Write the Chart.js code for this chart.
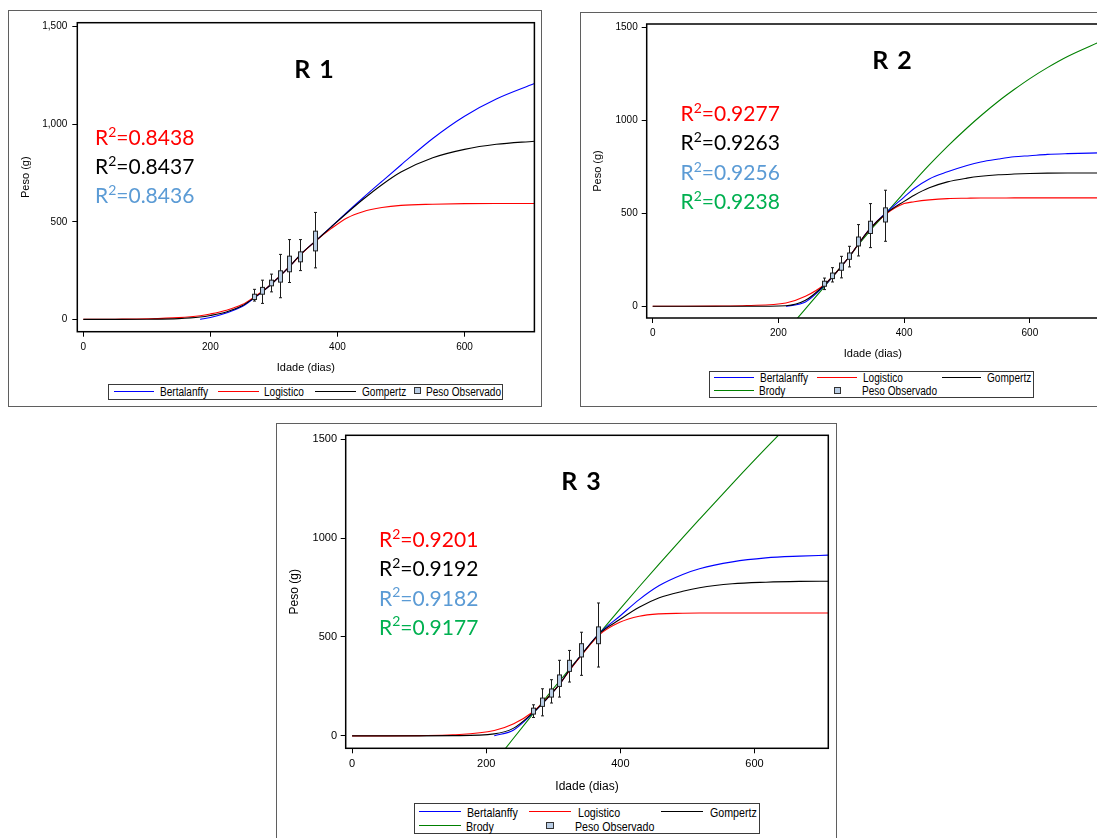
<!DOCTYPE html>
<html lang="pt">
<head>
<meta charset="utf-8">
<title>Curvas de crescimento – R1, R2, R3</title>
<script src="https://cdn.jsdelivr.net/npm/chart.js@4.4.1/dist/chart.umd.min.js"></script>
<style>
  html, body { margin: 0; padding: 0; background: #fff; }
  #page { position: relative; width: 1097px; height: 838px; overflow: hidden; background: #fff; }
  .frame { position: absolute; border: 1px solid #5f5f5f; box-sizing: border-box; }
  canvas { position: absolute; }
  .ttl { position: absolute; width: 120px; text-align: center; font: bold 25px Lato, sans-serif;
         line-height: 1.2; word-spacing: 3px; color: #000; white-space: nowrap; }
  .rsq { position: absolute; font: 21px Lato, sans-serif; line-height: 1.2; white-space: nowrap; }
  .rsq .sup { position: relative; top: -0.6em; font-size: 14px; }
  .leg { position: absolute; border: 1px solid #3a3a3a; box-sizing: border-box; }
  .lg-line { position: absolute; height: 1px; }
  .lg-txt { position: absolute; font-family: "Liberation Sans", Arial, sans-serif; font-size: 12px; line-height: 12px;
            white-space: nowrap; color: #000; transform: scaleX(0.84); transform-origin: 0 50%; }
  .lg-txt.big { font-size: 13px; line-height: 13px; transform: scaleX(0.82); }
  .lg-sq { position: absolute; background: #b8cce4; border: 1px solid #333; box-sizing: border-box; }
</style>
</head>
<body>
<div id="page">
  <!-- panel frames -->
  <div class="frame" style="left:8px;top:10px;width:534px;height:397px;"></div>
  <div class="frame" style="left:580px;top:12px;width:600px;height:395px;"></div>
  <div class="frame" style="left:276px;top:423px;width:561px;height:450px;"></div>

  <canvas id="chartR1" width="531" height="370" style="left:9px;top:11px;"></canvas>
  <canvas id="chartR2" width="530" height="355" style="left:581px;top:13px;"></canvas>
  <canvas id="chartR3" width="556" height="375" style="left:277px;top:424px;"></canvas>

  <!-- panel titles -->
  <div class="ttl" style="left:254px;top:53px;">R 1</div>
  <div class="ttl" style="left:832px;top:43.6px;">R 2</div>
  <div class="ttl" style="left:521px;top:465.3px;">R 3</div>

  <!-- coefficients of determination -->
  <div class="rsq" style="left:95px;top:124.3px;color:#ff0000;">R<span class="sup">2</span>=0.8438</div>
  <div class="rsq" style="left:95px;top:153.3px;color:#000000;">R<span class="sup">2</span>=0.8437</div>
  <div class="rsq" style="left:95px;top:182.3px;color:#5b9bd5;">R<span class="sup">2</span>=0.8436</div>

  <div class="rsq" style="left:680.5px;top:100px;color:#ff0000;">R<span class="sup">2</span>=0.9277</div>
  <div class="rsq" style="left:680.5px;top:129.3px;color:#000000;">R<span class="sup">2</span>=0.9263</div>
  <div class="rsq" style="left:680.5px;top:159.3px;color:#5b9bd5;">R<span class="sup">2</span>=0.9256</div>
  <div class="rsq" style="left:680.5px;top:188.3px;color:#00b050;">R<span class="sup">2</span>=0.9238</div>

  <div class="rsq" style="left:379px;top:526px;color:#ff0000;">R<span class="sup">2</span>=0.9201</div>
  <div class="rsq" style="left:379px;top:555px;color:#000000;">R<span class="sup">2</span>=0.9192</div>
  <div class="rsq" style="left:379px;top:584.6px;color:#5b9bd5;">R<span class="sup">2</span>=0.9182</div>
  <div class="rsq" style="left:379px;top:613.6px;color:#00b050;">R<span class="sup">2</span>=0.9177</div>

  <!-- legend R1 -->
  <div class="leg" style="left:108px;top:384px;width:395px;height:16px;"></div>
  <div class="lg-line" style="left:114px;top:391px;width:40px;background:#0000ff;"></div>
  <div class="lg-txt" style="left:160px;top:386px;">Bertalanffy</div>
  <div class="lg-line" style="left:218px;top:391px;width:41px;background:#ff0000;"></div>
  <div class="lg-txt" style="left:264px;top:386px;">Logistico</div>
  <div class="lg-line" style="left:315px;top:391px;width:41px;background:#000000;"></div>
  <div class="lg-txt" style="left:362px;top:386px;">Gompertz</div>
  <div class="lg-sq" style="left:414px;top:387px;width:7px;height:7px;"></div>
  <div class="lg-txt" style="left:425.5px;top:386px;">Peso Observado</div>

  <!-- legend R2 -->
  <div class="leg" style="left:709px;top:371px;width:325px;height:27px;"></div>
  <div class="lg-line" style="left:714px;top:377px;width:40px;background:#0000ff;"></div>
  <div class="lg-txt" style="left:760px;top:372px;">Bertalanffy</div>
  <div class="lg-line" style="left:817px;top:377px;width:40px;background:#ff0000;"></div>
  <div class="lg-txt" style="left:863px;top:372px;">Logistico</div>
  <div class="lg-line" style="left:942px;top:377px;width:39px;background:#000000;"></div>
  <div class="lg-txt" style="left:987px;top:372px;">Gompertz</div>
  <div class="lg-line" style="left:714px;top:390px;width:40px;background:#008000;"></div>
  <div class="lg-txt" style="left:759px;top:385px;">Brody</div>
  <div class="lg-sq" style="left:834px;top:387px;width:7px;height:7px;"></div>
  <div class="lg-txt" style="left:861.5px;top:385px;">Peso Observado</div>

  <!-- legend R3 -->
  <div class="leg" style="left:414px;top:803px;width:346px;height:31px;"></div>
  <div class="lg-line" style="left:419px;top:811px;width:42px;background:#0000ff;"></div>
  <div class="lg-txt big" style="left:467px;top:805.5px;">Bertalanffy</div>
  <div class="lg-line" style="left:529px;top:811px;width:42px;background:#ff0000;"></div>
  <div class="lg-txt big" style="left:578px;top:805.5px;">Logistico</div>
  <div class="lg-line" style="left:661px;top:811px;width:42px;background:#000000;"></div>
  <div class="lg-txt big" style="left:710px;top:805.5px;">Gompertz</div>
  <div class="lg-line" style="left:419px;top:825px;width:42px;background:#008000;"></div>
  <div class="lg-txt big" style="left:466px;top:819.5px;">Brody</div>
  <div class="lg-sq" style="left:546px;top:822px;width:8px;height:7px;"></div>
  <div class="lg-txt big" style="left:575px;top:819.5px;">Peso Observado</div>
</div>

<script>
// ---- axis settings shared by the three panels ----
const X_MIN = -9.5, X_MAX = 710;
const Y_MIN = -63, Y_MAX = 1520;
const xTickValues = [0, 200, 400, 600];
const xTickLabels = ['0', '200', '400', '600'];
const yTickValues = [0, 500, 1000, 1500];
const yTickLabelsR1 = ['0', '500', '1,000', '1,500'];
const yTickLabelsR23 = ['0', '500', '1000', '1500'];

// ---- R1: fitted curves (idade em dias -> peso em g) ----
const r1Ages         = [0, 50, 100, 150, 184, 200, 225, 250, 270, 285, 300, 315, 330, 345, 365, 390, 415, 440, 470, 500, 550, 600, 650, 710];
const r1Bertalanffy  = [null, null, null, null, 0, 10, 33, 66, 112, 150, 193, 240, 290, 342, 400, 474, 549, 622, 707, 791, 927, 1041, 1129, 1208];
const r1Logistico    = [0, 1, 3, 9, 19, 28, 47, 76, 117, 152, 194, 240, 289, 341, 400, 465, 520, 552, 573, 584, 590, 593, 594, 594];
const r1Gompertz     = [0, 0, 1, 4, 12, 20, 38, 70, 113, 150, 193, 240, 290, 342, 400, 473, 545, 614, 690, 755, 828, 871, 897, 913];
// R1: observed weights (min, quartiles, max)
const r1ObsAge = [269, 282, 296, 309, 323, 341, 365];
const r1ObsMin = [94, 82, 141, 111, 189, 250, 264];
const r1ObsQ1  = [102, 129, 172, 191, 244, 295, 351];
const r1ObsQ3  = [129, 164, 201, 249, 324, 346, 452];
const r1ObsMax = [154, 201, 232, 333, 409, 409, 548];

// ---- R2 ----
const r2Ages         = [0, 50, 100, 150, 212, 243, 273, 286, 299, 313, 327, 345, 370, 400, 416, 440, 469, 500, 522, 550, 575, 600, 628, 660, 712];
const r2Bertalanffy  = [null, null, null, null, 0, 23, 110, 158, 210, 268, 334, 415, 500, 588, 634, 686, 724, 758, 777, 793, 805, 811, 818, 822, 826];
const r2Logistico    = [0, 0, 1, 4, 18, 54, 116, 160, 210, 268, 334, 414, 494, 553, 563, 573, 580, 582, 583, 583, 584, 584, 584, 584, 584];
const r2Gompertz     = [0, 0, 0, 0, 3, 32, 114, 160, 210, 268, 334, 414, 497, 565, 598, 638, 670, 690, 700, 708, 712, 715, 717, 718, 718];
const r2Brody        = [null, null, null, null, -136, -14, 105, 158, 211, 268, 330, 404, 497, 612, 673, 761, 861, 960, 1026, 1104, 1167, 1226, 1285, 1345, 1425];
const r2ObsAge = [273, 285, 299, 313, 327, 345, 370];
const r2ObsMin = [90, 131, 153, 212, 271, 316, 350];
const r2ObsQ1  = [108, 149, 194, 253, 325, 392, 454];
const r2ObsQ3  = [135, 179, 233, 287, 373, 458, 530];
const r2ObsMax = [152, 208, 269, 323, 440, 553, 625];

// ---- R3 ----
const r3Ages         = [0, 50, 100, 150, 212, 241, 270, 283, 297, 310, 324, 343, 369, 399, 428, 458, 493, 518, 567, 617, 667, 710];
const r3Bertalanffy  = [null, null, null, null, 0, 30, 116, 160, 212, 264, 332, 415, 520, 605, 689, 760, 816, 845, 880, 900, 909, 914];
const r3Logistico    = [0, 0, 1, 5, 27, 61, 122, 163, 213, 264, 330, 412, 512, 574, 605, 617, 620, 621, 621, 621, 621, 621];
const r3Gompertz     = [0, 0, 0, 1, 10, 39, 118, 160, 212, 264, 332, 414, 518, 588, 650, 698, 731, 749, 769, 777, 781, 782];
const r3Brody        = [null, null, null, null, -135, -11, 112, 167, 226, 280, 337, 415, 520, 640, 754, 870, 1003, 1096, 1276, 1455, 1628, 1774];
const r3ObsAge = [270, 283, 297, 309, 324, 342, 366];
const r3ObsMin = [93, 101, 166, 196, 272, 306, 348];
const r3ObsQ1  = [110, 149, 196, 250, 326, 399, 466];
const r3ObsQ3  = [140, 191, 237, 308, 382, 466, 551];
const r3ObsMax = [157, 238, 284, 382, 432, 524, 672];

// ---- drawing helpers ----
const SANS = '"Liberation Sans", Arial, sans-serif';
const COLORS = { Bertalanffy: '#0000ff', Logistico: '#ff0000', Gompertz: '#000000', Brody: '#008000' };
const DRAW_ORDER = { Gompertz: 0, Logistico: 1, Bertalanffy: 2, Brody: 3 };

function toPoints(ages, values) {
  const pts = [];
  ages.forEach((a, i) => { if (values[i] !== null) pts.push({ x: a, y: values[i] }); });
  return pts;
}

function labelFor(values, labels) {
  return v => {
    const k = values.findIndex(t => Math.abs(t - v) < 1e-6);
    return k >= 0 ? labels[k] : '';
  };
}

// black frame around the plotting area
const plotFrame = {
  id: 'plotFrame',
  afterDraw(chart) {
    const { ctx, chartArea: a } = chart;
    ctx.save();
    ctx.strokeStyle = '#000';
    ctx.lineWidth = 1.5;
    ctx.strokeRect(a.left, a.top, a.right - a.left, a.bottom - a.top);
    ctx.restore();
  }
};

// box-and-whisker marks for the observed weights
function observedBoxes(obs) {
  return {
    id: 'observedBoxes',
    afterDatasetsDraw(chart) {
      const { ctx, scales: { x, y } } = chart;
      ctx.save();
      obs.age.forEach((age, i) => {
        const px = Math.round(x.getPixelForValue(age)) + 0.5;
        const yMin = y.getPixelForValue(obs.min[i]);
        const yMax = y.getPixelForValue(obs.max[i]);
        const yQ1 = y.getPixelForValue(obs.q1[i]);
        const yQ3 = y.getPixelForValue(obs.q3[i]);
        ctx.strokeStyle = '#1a1a1a';
        ctx.lineWidth = 1;
        ctx.beginPath();
        ctx.moveTo(px, yMax); ctx.lineTo(px, yMin);
        ctx.moveTo(px - 1.5, yMax); ctx.lineTo(px + 1.5, yMax);
        ctx.moveTo(px - 1.5, yMin); ctx.lineTo(px + 1.5, yMin);
        ctx.stroke();
        ctx.fillStyle = '#b8cce4';
        ctx.fillRect(px - 2, yQ3, 4, yQ1 - yQ3);
        ctx.strokeStyle = '#222';
        ctx.strokeRect(px - 2, yQ3, 4, yQ1 - yQ3);
      });
      ctx.restore();
    }
  };
}

function buildPanel(canvasId, geo, ages, curves, obs, yLabels) {
  const tickFont = { family: SANS, size: geo.tickSize };
  const titleFont = { family: SANS, size: geo.titleSize, lineHeight: 1 };
  const datasets = Object.keys(curves).map(name => ({
    label: name,
    data: toPoints(ages, curves[name]),
    borderColor: COLORS[name],
    backgroundColor: COLORS[name],
    borderWidth: 1.1,
    pointRadius: 0,
    fill: false,
    cubicInterpolationMode: 'monotone',
    order: DRAW_ORDER[name]
  }));
  return new Chart(document.getElementById(canvasId), {
    type: 'line',
    data: { datasets },
    options: {
      responsive: false,
      animation: false,
      events: [],
      layout: { padding: { left: 0, top: geo.padTop, right: geo.padRight, bottom: 0 } },
      plugins: { legend: { display: false }, tooltip: { enabled: false }, title: { display: false } },
      scales: {
        x: {
          type: 'linear', min: X_MIN, max: X_MAX,
          border: { display: false },
          grid: { drawOnChartArea: false, drawTicks: true, tickLength: 5, color: '#000', lineWidth: 1 },
          ticks: { maxRotation: 0, color: '#000', font: tickFont, padding: geo.xTickPad,
                   callback: labelFor(xTickValues, xTickLabels) },
          afterBuildTicks: s => { s.ticks = xTickValues.map(v => ({ value: v })); },
          title: { display: true, text: 'Idade (dias)', color: '#000', font: titleFont,
                   padding: { top: 0, bottom: geo.xTitlePad } },
          afterFit: s => { s.height = geo.xAxisH; }
        },
        y: {
          type: 'linear', min: Y_MIN, max: Y_MAX,
          border: { display: false },
          grid: { drawOnChartArea: false, drawTicks: true, tickLength: 5, color: '#000', lineWidth: 1 },
          ticks: { color: '#000', font: tickFont, padding: geo.yTickPad,
                   callback: labelFor(yTickValues, yLabels) },
          afterBuildTicks: s => { s.ticks = yTickValues.map(v => ({ value: v })); },
          title: { display: true, text: 'Peso (g)', color: '#000', font: titleFont,
                   padding: { top: geo.yTitlePad, bottom: 0 } },
          afterFit: s => { s.width = geo.yAxisW; }
        }
      }
    },
    plugins: [observedBoxes(obs), plotFrame]
  });
}

buildPanel('chartR1',
  { padTop: 11.7, padRight: 5.6, yAxisW: 68.3, xAxisH: 49.3, tickSize: 10, titleSize: 11,
    xTickPad: 4.6, yTickPad: 5, xTitlePad: 7.8, yTitlePad: 11.4 },
  r1Ages,
  { Bertalanffy: r1Bertalanffy, Logistico: r1Logistico, Gompertz: r1Gompertz },
  { age: r1ObsAge, min: r1ObsMin, q1: r1ObsQ1, q3: r1ObsQ3, max: r1ObsMax },
  yTickLabelsR1);

buildPanel('chartR2',
  { padTop: 11, padRight: 12, yAxisW: 65.7, xAxisH: 50, tickSize: 10, titleSize: 11,
    xTickPad: 4.3, yTickPad: 4, xTitlePad: 8.2, yTitlePad: 11.2 },
  r2Ages,
  { Bertalanffy: r2Bertalanffy, Logistico: r2Logistico, Gompertz: r2Gompertz, Brody: r2Brody },
  { age: r2ObsAge, min: r2ObsMin, q1: r2ObsQ1, q3: r2ObsQ3, max: r2ObsMax },
  yTickLabelsR23);

buildPanel('chartR3',
  { padTop: 11.3, padRight: 4.7, yAxisW: 68.7, xAxisH: 50.7, tickSize: 11, titleSize: 12,
    xTickPad: 4, yTickPad: 3.7, xTitlePad: 6.3, yTitlePad: 12 },
  r3Ages,
  { Bertalanffy: r3Bertalanffy, Logistico: r3Logistico, Gompertz: r3Gompertz, Brody: r3Brody },
  { age: r3ObsAge, min: r3ObsMin, q1: r3ObsQ1, q3: r3ObsQ3, max: r3ObsMax },
  yTickLabelsR23);
</script>
</body>
</html>
